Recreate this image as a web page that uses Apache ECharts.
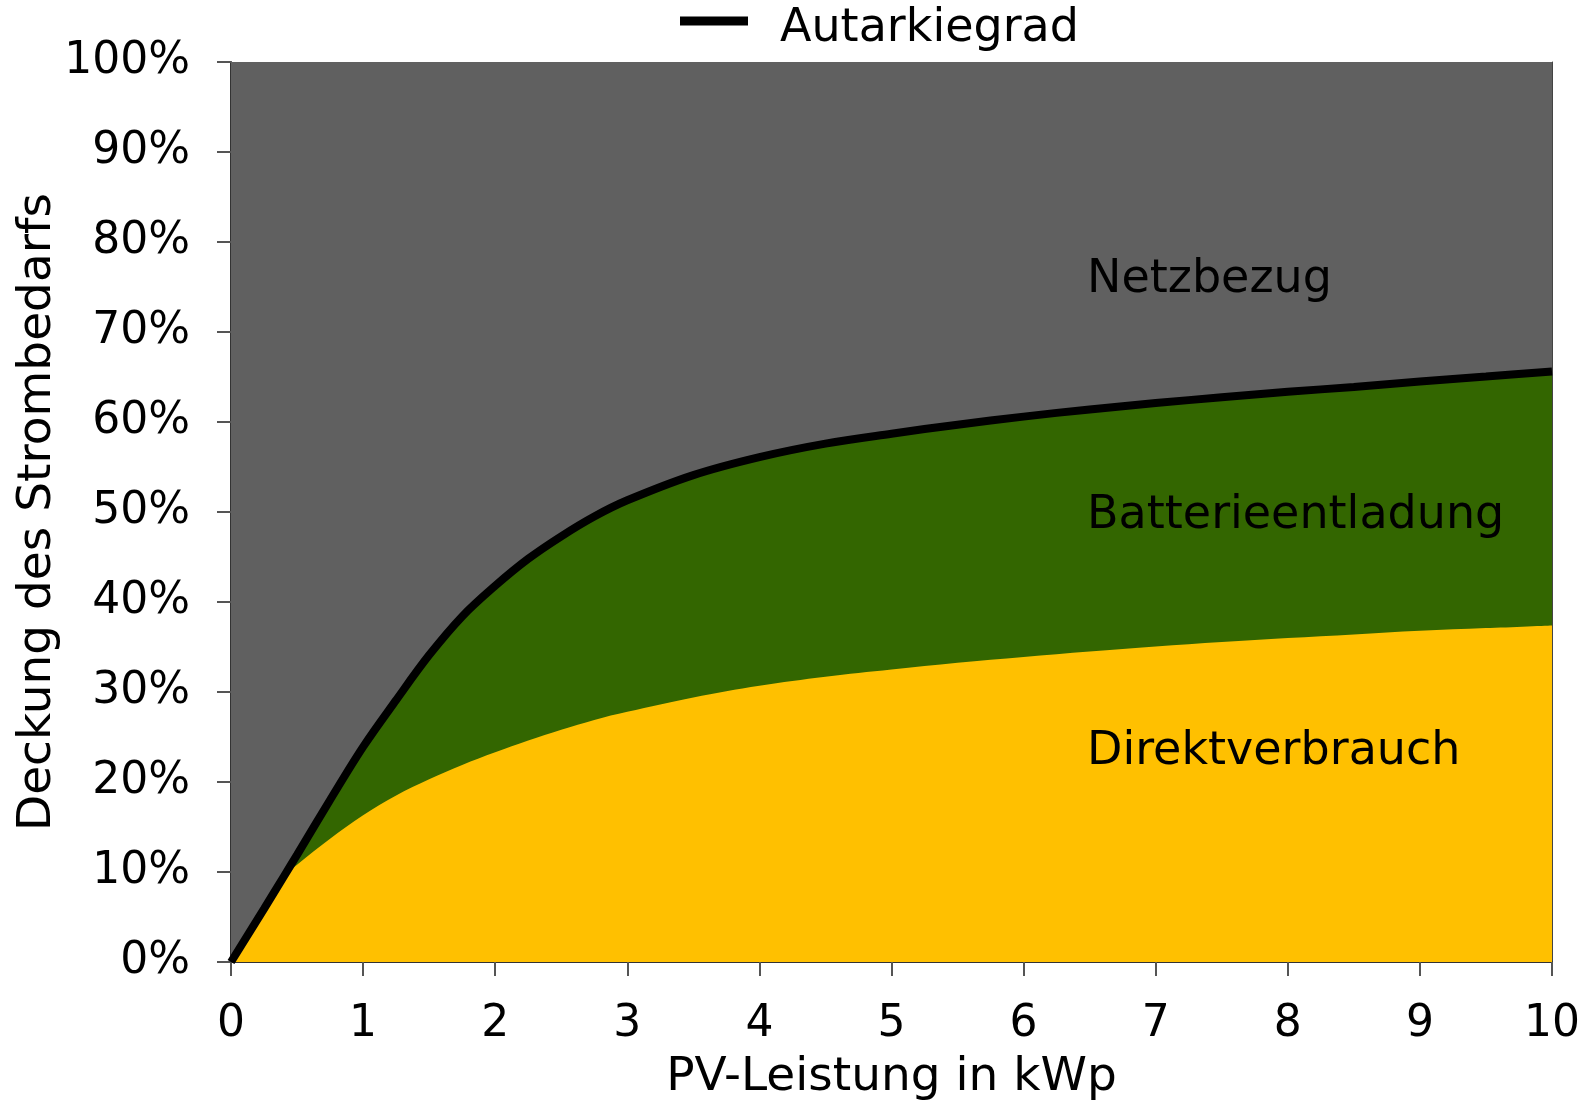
<!DOCTYPE html>
<html>
<head>
<meta charset="utf-8">
<script src="https://cdn.jsdelivr.net/npm/echarts@6/dist/echarts.min.js"></script>
<style>
  html, body { margin: 0; padding: 0; background: #fff; }
  #chart { width: 1593px; height: 1100px; }
</style>
</head>
<body>
<div id="chart"></div>
<script>
// PV-Leistung in kWp
const pvPower = [0, 0.25, 0.4, 0.5, 0.75, 1, 1.25, 1.5, 1.75, 2, 2.25, 2.5, 2.75, 3,
  3.5, 4, 4.5, 5, 5.5, 6, 6.5, 7, 7.5, 8, 8.5, 9, 9.5, 10];
// Autarkiegrad in %
const autarky = [0, 5.9, 9.5, 11.9, 18.0, 23.9, 29.1, 34.1, 38.4, 41.8, 44.8, 47.3, 49.5, 51.3,
  54.1, 56.1, 57.6, 58.7, 59.7, 60.6, 61.4, 62.1, 62.75, 63.35, 63.9, 64.5, 65.05, 65.6];
// Direktverbrauch in %
const directUse = [0, 5.9, 9.5, 10.8, 13.7, 16.3, 18.5, 20.3, 21.9, 23.3, 24.6, 25.8, 26.9, 27.8,
  29.4, 30.7, 31.7, 32.5, 33.25, 33.9, 34.5, 35.05, 35.55, 36.0, 36.4, 36.8, 37.1, 37.4];

const areaLabels = ['Netzbezug', 'Batterieentladung', 'Direktverbrauch'];
const areaLabelPos = [[6.48, 75.8], [6.48, 49.5], [6.48, 23.3]];

const font = 'DejaVu Sans';

const pairs = (ys) => pvPower.map((x, i) => [x, ys[i]]);
// shares: battery = autarky - direct, grid = 100 - autarky; stacked by hand
const battery = autarky.map((a, i) => a - directUse[i]);
const gridShare = autarky.map((a) => 100 - a);
const topDirect = directUse;
const topBattery = directUse.map((d, i) => d + battery[i]);
const topGrid = topBattery.map((b, i) => b + gridShare[i]);

const chart = echarts.init(document.getElementById('chart'), null, { renderer: 'canvas' });

const smooth = 0.35;

const areaSeries = (name, ys, color, z) => ({
  name,
  type: 'line',
  data: pairs(ys),
  smooth,
  symbol: 'none',
  lineStyle: { width: 0 },
  areaStyle: { color, opacity: 1 },
  itemStyle: { color },
  z,
});

chart.setOption({
  animation: false,
  backgroundColor: '#fff',
  textStyle: { fontFamily: font },
  grid: { left: 231, right: 41, top: 62, bottom: 138, outerBoundsMode: 'none', containLabel: false },
  legend: {
    data: ['Autarkiegrad'],
    left: 675,
    top: 1,
    // bar in the upper part of a taller box, so it sits a bit above the text middle
    icon: 'path://M0,0L68,0L68,9L0,9Z M0,25L0,25',
    itemWidth: 68,
    itemHeight: 25,
    textStyle: { fontFamily: font, fontSize: 46, color: '#000', padding: [0, 0, 0, 27] },
  },
  xAxis: {
    type: 'value',
    min: 0,
    max: 10,
    interval: 1,
    name: 'PV-Leistung in kWp',
    nameLocation: 'middle',
    nameGap: 92,
    nameTextStyle: { fontFamily: font, fontSize: 47, color: '#000' },
    axisLine: { show: true, lineStyle: { color: '#333', width: 2 } },
    axisTick: { show: true, length: 14, lineStyle: { color: '#555', width: 2 } },
    axisLabel: { fontFamily: font, fontSize: 44, color: '#000', margin: 41 },
    splitLine: { show: false },
  },
  yAxis: [{
    type: 'value',
    min: 0,
    max: 100,
    interval: 10,
    name: 'Deckung des Strombedarfs',
    nameLocation: 'middle',
    nameGap: 170,
    nameMoveOverlap: false,
    nameTextStyle: { fontFamily: font, fontSize: 47, color: '#000' },
    axisLine: { show: true, lineStyle: { color: '#333', width: 2 } },
    axisTick: { show: true, length: 14, lineStyle: { color: '#555', width: 2 } },
    axisLabel: { fontFamily: font, fontSize: 44, color: '#000', margin: 41, formatter: '{value}%' },
    splitLine: { show: false },
  }, {
    type: 'value',
    position: 'right',
    min: 0,
    max: 100,
    axisLine: { show: true, lineStyle: { color: '#444', width: 1 } },
    axisTick: { show: false },
    axisLabel: { show: false },
    splitLine: { show: false },
  }],
  series: [
    areaSeries('Netzbezug', topGrid, '#606060', 1),
    areaSeries('Batterieentladung', topBattery, '#336600', 2),
    areaSeries('Direktverbrauch', topDirect, '#FFC000', 3),
    {
      name: 'Autarkiegrad',
      type: 'line',
      data: pairs(autarky),
      smooth,
      symbol: 'none',
      lineStyle: { color: '#000', width: 8 },
      itemStyle: { color: '#000' },
      z: 5,
    },
    {
      name: 'labels',
      type: 'scatter',
      data: areaLabelPos.map((p, i) => ({ value: p, name: areaLabels[i] })),
      symbolSize: 0,
      silent: true,
      z: 6,
      itemStyle: { opacity: 1 },
      label: {
        show: true,
        position: 'right',
        distance: 0,
        formatter: '{b}',
        fontFamily: font,
        fontSize: 46,
        color: '#000',
      },
    },
  ],
});
</script>
</body>
</html>
